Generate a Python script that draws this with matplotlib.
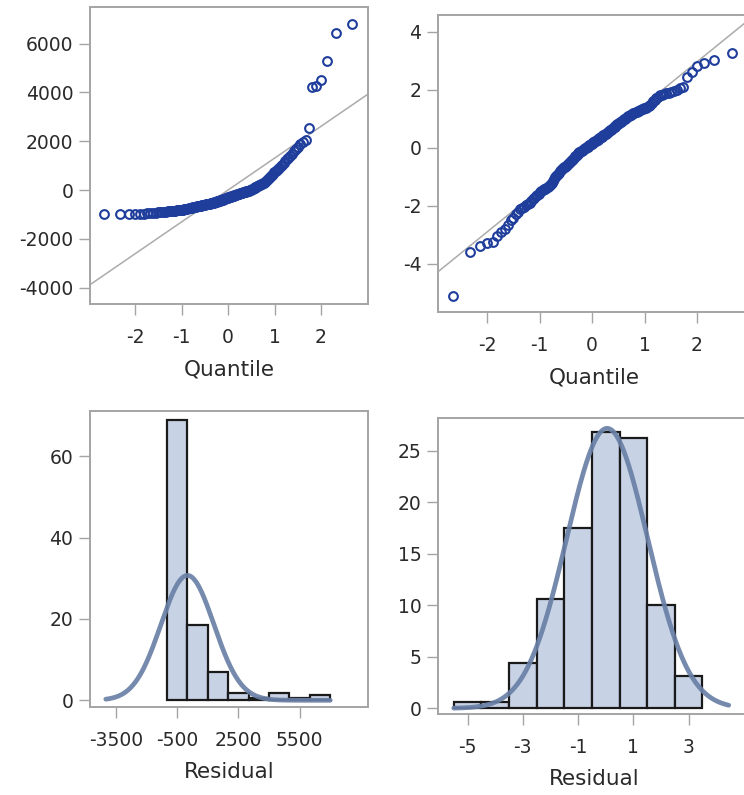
import numpy as np
import matplotlib
matplotlib.use("Agg")
import matplotlib.pyplot as plt
from statistics import NormalDist

plt.rcParams['font.family'] = ['DejaVu Sans']
plt.rcParams['axes.unicode_minus'] = False

# ---------------- data ----------------
# sorted residuals, raw model (top-left QQ plot)
resid_raw = [
    -995, -990, -985, -978, -972, -966, -958, -946, -934, -923,
    -913, -904, -896, -887, -880, -872, -866, -859, -853, -846,
    -840, -834, -829, -823, -818, -812, -801, -790, -780, -770,
    -760, -750, -740, -731, -721, -712, -703, -694, -686, -677,
    -669, -660, -652, -644, -636, -628, -620, -612, -604, -597,
    -589, -582, -574, -566, -559, -552, -544, -537, -530, -522,
    -513, -503, -492, -482, -471, -461, -450, -440, -429, -419,
    -408, -398, -388, -377, -367, -357, -346, -336, -326, -315,
    -305, -294, -284, -274, -264, -253, -243, -232, -222, -212,
    -201, -191, -180, -170, -159, -149, -138, -128, -117, -107,
    -96, -85, -74, -63, -52, -42, -32, -22, -12, -4,
    10, 30, 50, 70, 90, 110, 130, 150, 170, 192,
    214, 236, 258, 282, 306, 345, 385, 422, 463, 504,
    545, 588, 631, 676, 719, 767, 816, 864, 914, 968,
    1040, 1110, 1180, 1255, 1330, 1410, 1495, 1580, 1680, 1780,
    1880, 1960, 2050, 2560, 4220, 4250, 4500, 5300, 6450, 6800,
]

# sorted residuals, transformed model (top-right QQ plot)
resid_trans = [
    -5.1, -3.6, -3.4, -3.3, -3.25, -3.05, -2.9, -2.8, -2.65, -2.48,
    -2.42, -2.3, -2.2, -2.12, -2.08, -2.03, -1.98, -1.93, -1.89, -1.84,
    -1.78, -1.72, -1.68, -1.63, -1.58, -1.53, -1.48, -1.46, -1.44, -1.42,
    -1.39, -1.36, -1.33, -1.3, -1.25, -1.2, -1.14, -1.08, -1.02, -0.98,
    -0.94, -0.9, -0.86, -0.82, -0.78, -0.74, -0.71, -0.68, -0.65, -0.62,
    -0.59, -0.56, -0.53, -0.51, -0.47, -0.44, -0.41, -0.38, -0.34, -0.3,
    -0.27, -0.24, -0.21, -0.19, -0.16, -0.14, -0.12, -0.1, -0.08, -0.06,
    -0.04, -0.02, 0.0, 0.02, 0.04, 0.06, 0.08, 0.1, 0.12, 0.14,
    0.16, 0.18, 0.2, 0.22, 0.24, 0.26, 0.28, 0.3, 0.32, 0.34,
    0.36, 0.38, 0.4, 0.42, 0.44, 0.46, 0.48,
    0.51, 0.53, 0.55, 0.58, 0.6, 0.62, 0.65, 0.67, 0.7, 0.72,
    0.75, 0.77, 0.8, 0.83, 0.85, 0.88, 0.9, 0.93, 0.95, 0.98,
    1.0, 1.03, 1.05, 1.08, 1.1, 1.12, 1.14, 1.16, 1.18, 1.2,
    1.22, 1.24, 1.26, 1.28, 1.3, 1.32, 1.34, 1.36, 1.38, 1.41, 1.44, 1.47,
    1.55, 1.6, 1.65, 1.7, 1.75, 1.8, 1.83, 1.86, 1.88, 1.9, 1.92, 1.95,
    2.0, 2.05, 2.08, 2.45,
    2.6, 2.8, 2.92, 3.02, 3.25,
]

# QQ reference lines (intercept, slope)
ref_raw = (0.0, 1306.0)
ref_trans = (0.03, 1.464)

# histogram (percent) raw residuals
hist_raw_centers = [-500, 500, 1500, 2500, 3500, 4500, 5500, 6500]
hist_raw_pct = [68.9, 18.6, 6.9, 1.9, 0.6, 1.9, 0.6, 1.2]
hist_raw_width = 1000
normal_raw = (0.0, 1300.0)   # mean, sd

# histogram (percent) transformed residuals
hist_trans_centers = [-5, -4, -3, -2, -1, 0, 1, 2, 3]
hist_trans_pct = [0.625, 0.625, 4.375, 10.625, 17.5, 26.875, 26.25, 10.0, 3.125]
hist_trans_width = 1
normal_trans = (0.05, 1.467)

# ---------------- style ----------------
W, H = 744, 795
MARK = '#1F3E9C'
REF = '#ababab'
FILL = '#c7d3e5'
EDGE = '#1a1a1a'
CURVE = '#6a80a6'
SPINE = '#a4a4a4'
TXT = '#2a2a2a'

fig = plt.figure(figsize=(W / 100, H / 100), dpi=100)
fig.patch.set_facecolor('white')


def add_ax(l, t, r, b):
    return fig.add_axes([l / W, 1 - b / H, (r - l) / W, (b - t) / H])


def style(ax):
    for s in ax.spines.values():
        s.set_color(SPINE)
        s.set_linewidth(1.4)
    ax.tick_params(axis='both', direction='out', length=8, width=1.0,
                   color=SPINE, labelcolor=TXT, labelsize=13.5)
    ax.tick_params(axis='x', pad=9)
    ax.tick_params(axis='y', pad=4)


def qq(ax, data, ref, xlim, ylim, yticks):
    n = len(data)
    nd = NormalDist()
    q = [nd.inv_cdf((i + 1 - 0.375) / (n + 0.25)) for i in range(n)]
    ax.axline((0, ref[0]), slope=ref[1], color=REF, lw=1.1, zorder=1)
    ax.plot(q, data, linestyle='none', marker='o', markersize=6.3,
            markerfacecolor='none', markeredgecolor=MARK, markeredgewidth=1.5,
            zorder=3)
    ax.set_xlim(*xlim)
    ax.set_ylim(*ylim)
    ax.set_xticks([-2, -1, 0, 1, 2])
    ax.set_yticks(yticks)
    ax.set_xlabel('Quantile', fontsize=15.5, color=TXT, labelpad=9)
    style(ax)


def hist(ax, centers, pct, width, normal, curve_range, xlim, ylim, xticks, yticks):
    ax.bar(centers, pct, width=width, color=FILL, edgecolor=EDGE,
           linewidth=1.6, zorder=2)
    xs = np.linspace(curve_range[0], curve_range[1], 400)
    mu, sd = normal
    ys = 100 * width * np.exp(-0.5 * ((xs - mu) / sd) ** 2) / (sd * np.sqrt(2 * np.pi))
    ax.plot(xs, ys, color=CURVE, lw=3.4, alpha=0.92, solid_capstyle='round',
            zorder=3)
    ax.set_xlim(*xlim)
    ax.set_ylim(*ylim)
    ax.set_xticks(xticks)
    ax.set_yticks(yticks)
    ax.set_xlabel('Residual', fontsize=15.5, color=TXT, labelpad=9)
    style(ax)


ax1 = add_ax(90, 7, 368, 304)
qq(ax1, resid_raw, ref_raw, (-2.97, 3.01), (-4670, 7500),
   [-4000, -2000, 0, 2000, 4000, 6000])

ax2 = add_ax(438, 15, 750, 312)
qq(ax2, resid_trans, ref_trans, (-2.94, 3.01), (-5.66, 4.57),
   [-4, -2, 0, 2, 4])

ax3 = add_ax(90, 411, 368, 707)
hist(ax3, hist_raw_centers, hist_raw_pct, hist_raw_width, normal_raw,
     (-4000, 7000), (-4775, 8850), (-1.65, 71.1),
     [-3500, -500, 2500, 5500], [0, 20, 40, 60])

ax4 = add_ax(438, 418, 750, 714)
hist(ax4, hist_trans_centers, hist_trans_pct, hist_trans_width, normal_trans,
     (-5.5, 4.45), (-6.07, 5.22), (-0.55, 28.2),
     [-5, -3, -1, 1, 3], [0, 5, 10, 15, 20, 25])

fig.savefig('out.png', dpi=100, facecolor='white')
